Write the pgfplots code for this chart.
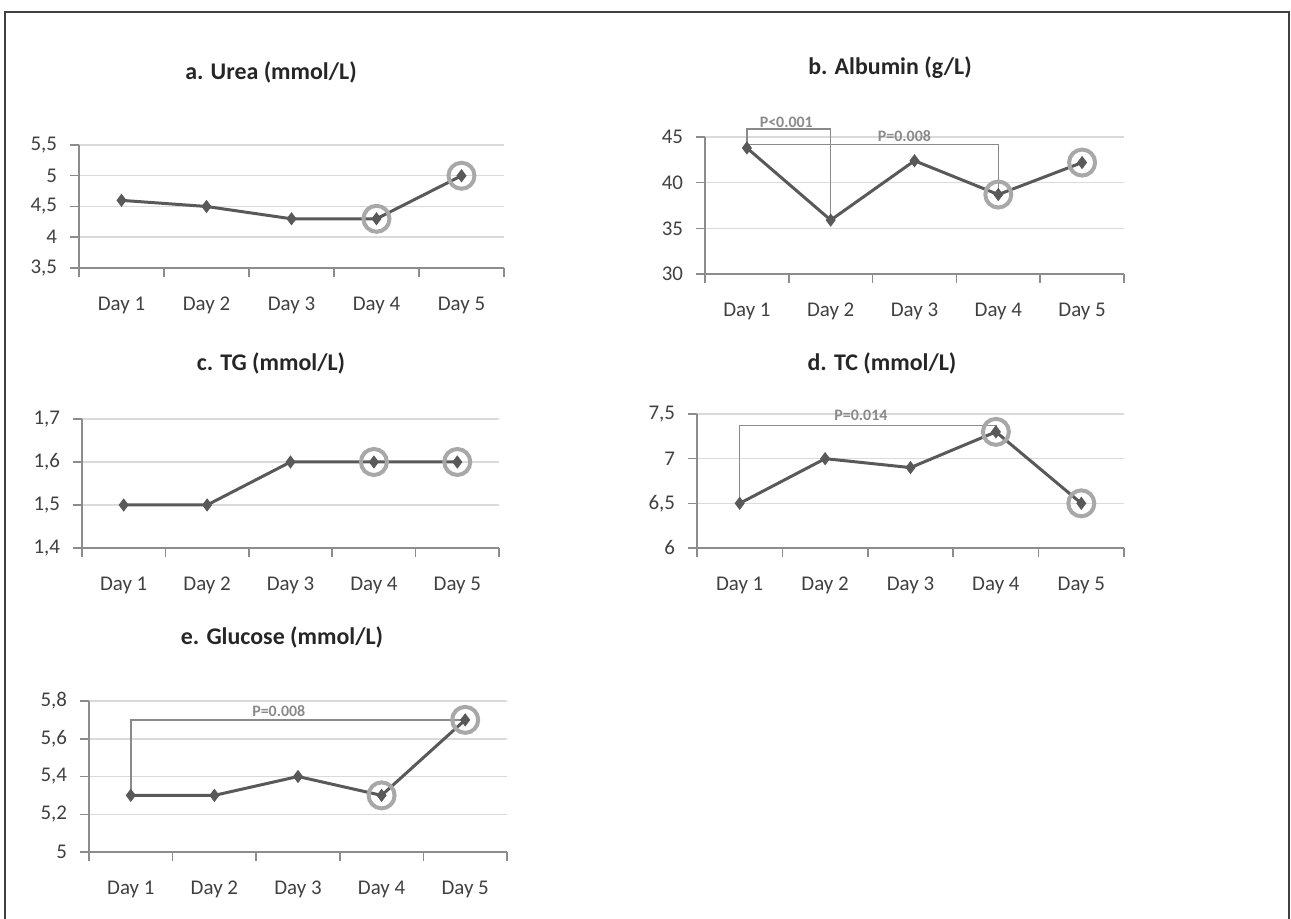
\documentclass[border=0pt]{standalone}
\usepackage{fontspec}
\setmainfont{Carlito}
\usepackage{pgfplots}
\pgfplotsset{compat=1.18}

\definecolor{linegray}{HTML}{595959}
\definecolor{axisgray}{HTML}{8C8C8C}
\definecolor{gridgray}{HTML}{DADADA}
\definecolor{circgray}{HTML}{A8A8A8}
\definecolor{labelgray}{HTML}{404040}
\definecolor{brgray}{HTML}{8A8A8A}
\definecolor{titlegray}{HTML}{262626}

\pgfplotsset{
  panel/.style={
    scale only axis, anchor=south west, clip=false,
    xmin=0.5, xmax=5.5,
    xtick={0.5,1.5,...,5.5}, xticklabels={},
    extra x ticks={1,2,3,4,5},
    extra x tick labels={Day 1,Day 2,Day 3,Day 4,Day 5},
    extra x tick style={major tick length=0pt},
    axis x line*=bottom, axis y line*=left,
    axis line style={draw=axisgray, line width=0.75bp, -},
    tick align=outside, major tick length=4.5bp,
    tick style={draw=axisgray, line width=0.75bp},
    ymajorgrids, grid style={draw=gridgray, line width=0.75bp},
    tick label style={font=\fontsize{10.5}{12}\selectfont, text=labelgray},
    /pgf/number format/assume math mode=true,
    /pgf/number format/use comma,
    xticklabel style={yshift=-11bp},
    yticklabel style={xshift=-3bp},
  },
  series/.style={line width=1.5bp, color=linegray, mark=diamond*,
    mark size=2.1bp, mark options={solid, fill=linegray}},
  ring/.style={only marks, mark=o, mark size=6.5bp,
    mark options={line width=2bp, draw=circgray}},
  bracket/.style={no marks, draw=brgray, line width=0.75bp},
}
\tikzset{
  ptitle/.style={font=\fontsize{12}{14}\selectfont\bfseries, text=titlegray},
  plabel/.style={font=\fontsize{8}{9}\selectfont\bfseries, text=brgray, inner sep=0pt},
}

\begin{document}
\begin{tikzpicture}
\path[use as bounding box] (0,0) rectangle (645.5bp,459.5bp);
\draw[line width=1bp, color=labelgray]
  (2.5bp,-5bp) -- (2.5bp,453.5bp) -- (644.5bp,453.5bp) -- (644.5bp,-5bp);

% a. Urea
\node[ptitle] at (135.5bp,423.5bp) {a. Urea (mmol/L)};
\begin{axis}[panel, at={(39.5bp,325.5bp)}, width=212.5bp, height=61.5bp,
  ymin=3.5, ymax=5.5, ytick={3.5,4,4.5,5,5.5}]
  \addplot[series] coordinates {(1,4.6) (2,4.5) (3,4.3) (4,4.3) (5,5.0)};
  \addplot[ring] coordinates {(4,4.3) (5,5.0)};
\end{axis}

% b. Albumin
\node[ptitle] at (445bp,425.5bp) {b. Albumin (g/L)};
\begin{axis}[panel, at={(352.5bp,322.5bp)}, width=209.5bp, height=68.5bp,
  ymin=30, ymax=45, ytick={30,35,40,45}]
  \addplot[bracket] coordinates {(1,43.8) (1,45.9) (2,45.9) (2,35.9)};
  \addplot[bracket] coordinates {(1,44.17) (4,44.17) (4,38.7)};
  \addplot[series] coordinates {(1,43.8) (2,35.9) (3,42.4) (4,38.7) (5,42.2)};
  \addplot[ring] coordinates {(4,38.7) (5,42.2)};
  \node[plabel] at (axis cs:1.47,46.56) {P<0.001};
  \node[plabel] at (axis cs:2.88,45.07) {P=0.008};
\end{axis}

% c. TG
\node[ptitle] at (135.5bp,278bp) {c. TG (mmol/L)};
\begin{axis}[panel, at={(41bp,185.5bp)}, width=208.5bp, height=64.5bp,
  ymin=1.4, ymax=1.7, ytick={1.4,1.5,1.6,1.7}]
  \addplot[series] coordinates {(1,1.5) (2,1.5) (3,1.6) (4,1.6) (5,1.6)};
  \addplot[ring] coordinates {(4,1.6) (5,1.6)};
\end{axis}

% d. TC
\node[ptitle] at (441bp,278bp) {d. TC (mmol/L)};
\begin{axis}[panel, at={(348.5bp,185.5bp)}, width=213.5bp, height=67bp,
  ymin=6, ymax=7.5, ytick={6,6.5,7,7.5}]
  \addplot[bracket] coordinates {(1,6.5) (1,7.37) (4,7.37) (4,7.3)};
  \addplot[series] coordinates {(1,6.5) (2,7.0) (3,6.9) (4,7.3) (5,6.5)};
  \addplot[ring] coordinates {(4,7.3) (5,6.5)};
  \node[plabel] at (axis cs:2.42,7.485) {P=0.014};
\end{axis}

% e. Glucose
\node[ptitle] at (141bp,141bp) {e. Glucose (mmol/L)};
\begin{axis}[panel, at={(44.5bp,33.5bp)}, width=209bp, height=75.5bp,
  ymin=5, ymax=5.8, ytick={5,5.2,5.4,5.6,5.8}]
  \addplot[bracket] coordinates {(1,5.3) (1,5.70) (5,5.70)};
  \addplot[series] coordinates {(1,5.3) (2,5.3) (3,5.4) (4,5.3) (5,5.7)};
  \addplot[ring] coordinates {(4,5.3) (5,5.7)};
  \node[plabel] at (axis cs:2.77,5.747) {P=0.008};
\end{axis}
\end{tikzpicture}
\end{document}
